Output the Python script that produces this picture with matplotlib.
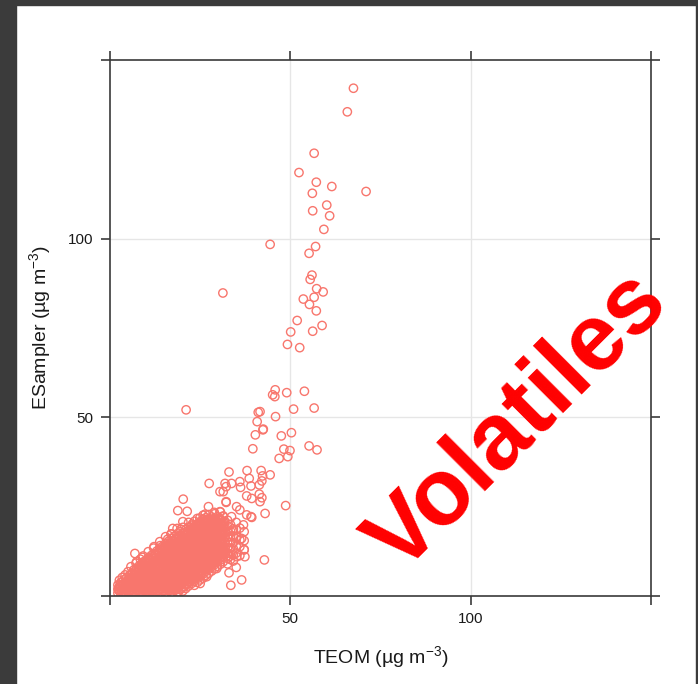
import numpy as np
import matplotlib
matplotlib.use("Agg")
import matplotlib.pyplot as plt
from matplotlib.patches import Rectangle

plt.rcParams['font.family'] = ['Liberation Sans', 'DejaVu Sans']
plt.rcParams['mathtext.fontset'] = 'custom'
plt.rcParams['mathtext.rm'] = 'Liberation Sans'
plt.rcParams['mathtext.it'] = 'Liberation Sans:italic'
plt.rcParams['mathtext.bf'] = 'Liberation Sans:bold'

# ---------- data (TEOM vs ESampler, ug/m3) ----------
# dense low-concentration cluster, one TEOM value per column
core_teom = [2.2, 3.0, 3.8, 4.6, 5.4, 6.2, 7.0, 7.8, 8.6, 9.4, 10.2, 11.0, 11.8,
             12.6, 13.4, 14.2, 15.0, 15.8, 16.6, 17.4, 18.2, 19.0, 19.8, 20.6,
             21.4, 22.2, 23.0, 23.8, 24.6, 25.4, 26.2, 27.0, 27.8, 28.6, 29.4,
             30.2, 31.0, 31.8]
core_esampler = [
    [0.8, 2.0, 3.1],
    [0.5, 1.6, 2.7, 3.8],
    [1.0, 2.2, 3.3, 4.5],
    [0.6, 1.7, 2.9, 4.0, 5.1],
    [1.2, 2.4, 3.5, 4.7, 5.8],
    [0.5, 1.8, 3.0, 4.1, 5.3, 6.4],
    [1.1, 2.3, 3.6, 4.8, 5.9, 7.1],
    [0.6, 1.8, 3.0, 4.2, 5.4, 6.6, 7.7],
    [1.2, 2.5, 3.7, 4.9, 6.1, 7.3, 8.4],
    [0.5, 1.8, 3.1, 4.3, 5.5, 6.8, 8.0, 9.1],
    [1.1, 2.4, 3.6, 4.9, 6.1, 7.4, 8.6, 9.7],
    [0.6, 1.9, 3.1, 4.4, 5.6, 6.9, 8.1, 9.3, 10.4],
    [1.3, 2.6, 3.8, 5.1, 6.3, 7.6, 8.8, 10.0, 11.0],
    [0.7, 2.0, 3.2, 4.5, 5.7, 7.0, 8.2, 9.5, 10.7, 11.6],
    [1.4, 2.7, 3.9, 5.2, 6.4, 7.7, 8.9, 10.2, 11.4, 12.3],
    [0.8, 2.1, 3.3, 4.6, 5.8, 7.1, 8.3, 9.6, 10.8, 12.0, 12.9],
    [1.5, 2.8, 4.0, 5.3, 6.5, 7.8, 9.0, 10.3, 11.5, 12.7, 13.6],
    [0.9, 2.2, 3.4, 4.7, 5.9, 7.2, 8.4, 9.7, 10.9, 12.2, 13.3, 14.2],
    [1.6, 2.9, 4.1, 5.4, 6.6, 7.9, 9.1, 10.4, 11.6, 12.9, 14.0, 14.8],
    [1.0, 2.3, 3.5, 4.8, 6.0, 7.3, 8.5, 9.8, 11.0, 12.3, 13.5, 14.6, 15.5],
    [1.7, 3.0, 4.2, 5.5, 6.7, 8.0, 9.2, 10.5, 11.7, 13.0, 14.2, 15.3, 16.1],
    [1.2, 2.4, 3.7, 4.9, 6.2, 7.4, 8.7, 9.9, 11.2, 12.4, 13.7, 14.9, 16.0, 16.7],
    [2.0, 3.2, 4.5, 5.7, 7.0, 8.2, 9.5, 10.7, 12.0, 13.2, 14.5, 15.7, 16.9],
    [2.6, 3.9, 5.1, 6.4, 7.6, 8.9, 10.1, 11.4, 12.6, 13.9, 15.1, 16.4, 17.5],
    [3.3, 4.5, 5.8, 7.0, 8.3, 9.5, 10.8, 12.0, 13.3, 14.5, 15.8, 17.0, 18.1],
    [3.9, 5.2, 6.4, 7.7, 8.9, 10.2, 11.4, 12.7, 13.9, 15.2, 16.4, 17.7, 18.6],
    [4.6, 5.8, 7.1, 8.3, 9.6, 10.8, 12.1, 13.3, 14.6, 15.8, 17.1, 18.3, 19.2],
    [5.2, 6.5, 7.7, 9.0, 10.2, 11.5, 12.7, 14.0, 15.2, 16.5, 17.7, 19.0, 19.8],
    [5.9, 7.1, 8.4, 9.6, 10.9, 12.1, 13.4, 14.6, 15.9, 17.1, 18.4, 19.6, 20.4],
    [6.5, 7.8, 9.0, 10.3, 11.5, 12.8, 14.0, 15.3, 16.5, 17.8, 19.0, 20.3],
    [7.2, 8.4, 9.7, 10.9, 12.2, 13.4, 14.7, 15.9, 17.2, 18.4, 19.7, 20.9],
    [7.8, 9.1, 10.3, 11.6, 12.8, 14.1, 15.3, 16.6, 17.8, 19.1, 20.3, 21.4],
    [8.5, 9.7, 11.0, 12.2, 13.5, 14.7, 16.0, 17.2, 18.5, 19.7, 21.0],
    [9.1, 10.4, 11.6, 12.9, 14.1, 15.4, 16.6, 17.9, 19.1, 20.4, 21.6],
    [9.8, 11.0, 12.3, 13.5, 14.8, 16.0, 17.3, 18.5, 19.8, 21.0],
    [10.4, 11.7, 12.9, 14.2, 15.4, 16.7, 17.9, 19.2, 20.4, 21.8],
    [11.1, 12.3, 13.6, 14.8, 16.1, 17.3, 18.6, 19.8, 21.1],
    [12.0, 13.5, 15.0, 16.5, 18.0, 19.5, 20.8],
]

# second, staggered set of columns inside the same cluster
core2_teom = [2.6, 3.4, 4.2, 5.0, 5.8, 6.6, 7.4, 8.2, 9.0, 9.8, 10.6, 11.4,
              12.2, 13.0, 13.8, 14.6, 15.4, 16.2, 17.0, 17.8, 18.6, 19.4,
              20.2, 21.0, 21.8, 22.6, 23.4, 24.2, 25.0, 25.8, 26.6, 27.4,
              28.2, 29.0, 29.8, 30.6, 31.4, 32.6, 33.4, 34.2, 35.0, 36.0, 37.2]
core2_esampler = [
    [1.4, 2.6, 4.4],
    [1.1, 2.2, 3.3, 5.2],
    [0.4, 1.6, 2.8, 3.9, 5.9],
    [1.1, 2.3, 3.4, 4.6, 6.8],
    [0.4, 1.7, 2.9, 4.0, 5.2, 6.1, 8.2],
    [1.2, 2.4, 3.6, 4.8, 5.9, 7.3],
    [0.5, 1.7, 2.9, 4.2, 5.4, 6.5, 7.8, 9.6],
    [1.2, 2.4, 3.6, 4.8, 6.0, 7.2, 8.6],
    [0.6, 1.9, 3.1, 4.3, 5.5, 6.7, 7.9, 9.4, 10.8],
    [1.2, 2.5, 3.7, 4.9, 6.2, 7.4, 8.6, 9.9],
    [0.4, 1.8, 3.0, 4.3, 5.5, 6.8, 8.0, 9.2, 10.7, 12.4],
    [1.3, 2.5, 3.8, 5.0, 6.3, 7.5, 8.7, 9.9, 11.3],
    [0.5, 2.0, 3.2, 4.5, 5.7, 6.9, 8.2, 9.4, 10.6, 11.9, 13.8],
    [1.4, 2.6, 3.9, 5.1, 6.4, 7.6, 8.9, 10.1, 11.3, 12.6],
    [0.6, 2.0, 3.3, 4.5, 5.8, 7.0, 8.3, 9.5, 10.8, 12.0, 13.4, 15.2],
    [1.4, 2.7, 3.9, 5.2, 6.4, 7.7, 8.9, 10.2, 11.4, 12.7, 13.9],
    [0.7, 2.1, 3.3, 4.6, 5.8, 7.1, 8.3, 9.6, 10.8, 12.1, 13.3, 14.7, 16.6],
    [1.5, 2.8, 4.0, 5.3, 6.5, 7.8, 9.0, 10.3, 11.5, 12.8, 14.0, 15.3],
    [0.8, 2.2, 3.4, 4.7, 5.9, 7.2, 8.4, 9.7, 10.9, 12.2, 13.4, 14.7, 16.1, 17.4],
    [1.6, 2.9, 4.1, 5.4, 6.6, 7.9, 9.1, 10.4, 11.6, 12.9, 14.1, 15.4, 16.6],
    [0.9, 2.3, 3.5, 4.8, 6.0, 7.3, 8.5, 9.8, 11.0, 12.3, 13.5, 14.8, 16.0, 17.4, 18.9],
    [1.8, 3.0, 4.3, 5.5, 6.8, 8.0, 9.3, 10.5, 11.8, 13.0, 14.3, 15.5, 16.8, 18.0],
    [1.4, 2.6, 3.8, 5.1, 6.3, 7.6, 8.8, 10.1, 11.3, 12.6, 13.8, 15.1, 16.3, 17.6, 19.2, 20.8],
    [2.1, 3.4, 4.6, 5.9, 7.1, 8.4, 9.6, 10.9, 12.1, 13.4, 14.6, 15.9, 17.1, 18.5],
    [2.8, 4.0, 5.3, 6.5, 7.8, 9.0, 10.3, 11.5, 12.8, 14.0, 15.3, 16.5, 17.8, 19.2, 20.6],
    [3.5, 4.7, 6.0, 7.2, 8.5, 9.7, 11.0, 12.2, 13.5, 14.7, 16.0, 17.2, 18.5, 19.6],
    [3.0, 4.2, 5.4, 6.7, 7.9, 9.2, 10.4, 11.7, 12.9, 14.2, 15.4, 16.7, 17.9, 19.3, 20.9],
    [3.8, 4.9, 6.1, 7.4, 8.6, 9.9, 11.1, 12.4, 13.6, 14.9, 16.1, 17.4, 18.6, 20.0, 21.7],
    [4.5, 5.6, 6.8, 8.1, 9.3, 10.6, 11.8, 13.1, 14.3, 15.6, 16.8, 18.1, 19.4, 20.8],
    [5.0, 6.2, 7.5, 8.7, 10.0, 11.2, 12.5, 13.7, 15.0, 16.2, 17.5, 18.7, 20.0, 21.4, 22.6],
    [5.8, 6.9, 8.1, 9.4, 10.6, 11.9, 13.1, 14.4, 15.6, 16.9, 18.1, 19.4, 20.6, 21.9],
    [6.4, 7.5, 8.8, 10.0, 11.3, 12.5, 13.8, 15.0, 16.3, 17.5, 18.8, 20.0, 21.3, 22.8],
    [7.0, 8.2, 9.4, 10.7, 11.9, 13.2, 14.4, 15.7, 16.9, 18.2, 19.4, 20.7, 22.1],
    [7.6, 8.8, 10.1, 11.3, 12.6, 13.8, 15.1, 16.3, 17.6, 18.8, 20.1, 21.4, 23.0],
    [8.3, 9.5, 10.7, 12.0, 13.2, 14.5, 15.7, 17.0, 18.2, 19.5, 20.7, 22.2],
    [8.9, 10.1, 11.4, 12.6, 13.9, 15.1, 16.4, 17.6, 18.9, 20.1, 21.4, 23.5],
    [9.6, 10.8, 12.0, 13.3, 14.5, 15.8, 17.0, 18.3, 19.5, 20.8, 22.4],
    [9.0, 10.5, 12.0, 13.5, 15.0, 16.5, 18.0, 19.6, 21.2],
    [10.2, 11.8, 13.4, 15.0, 16.6, 18.2, 20.0],
    [9.8, 11.5, 13.2, 14.9, 16.8, 18.8],
    [12.0, 14.0, 16.0, 18.5, 20.6],
    [11.3, 13.8, 15.7, 19.0],
    [13.0, 15.5, 18.0],
]

# scattered points around the edge of the cluster
edge_teom = [6.9, 9.2, 7.2, 10.6, 2.8, 2.3, 16.0, 17.4, 18.8, 21.4, 20.3,
             15.7, 14.3, 17.6, 18.5, 21.3, 24.0, 25.0, 26.8, 29.6, 27.7,
             30.5, 33.3, 37.2, 33.1, 35.1, 37.4, 36.5, 35.1, 37.0, 33.7,
             35.1, 36.0, 37.9, 39.3, 32.2, 30.5, 31.9, 27.3, 30.5, 31.4,
             33.5, 35.0, 36.5, 33.0, 42.8, 39.1, 43.0, 48.7, 32.2, 37.9,
             39.3, 41.4, 42.1, 41.6, 36.2, 31.4, 32.2, 33.7, 36.0, 38.6,
             42.3, 42.1, 39.1, 41.4, 27.5, 33.0, 38.0, 41.9, 44.4,
             8.4, 12.1, 13.9, 16.9, 19.6, 22.8, 24.9, 26.4, 28.9, 34.2]
edge_esampler = [11.9, 11.2, 9.2, 9.6, 3.1, 1.7, 15.9, 18.9, 23.9, 23.7, 27.1,
                 2.6, 4.0, 5.9, 4.0, 4.5, 7.3, 3.5, 5.4, 7.7, 10.1,
                 11.9, 13.3, 12.9, 11.0, 11.0, 11.0, 16.1, 16.6, 19.9, 22.2,
                 25.0, 24.1, 22.7, 22.0, 26.2, 29.2, 31.5, 25.0, 23.6, 22.2,
                 3.0, 8.0, 4.5, 6.5, 10.1, 22.2, 23.1, 25.3, 26.4, 28.0,
                 27.3, 28.5, 27.5, 26.4, 30.4, 29.2, 30.6, 31.5, 32.0, 32.9,
                 33.6, 32.2, 30.8, 31.1, 31.5, 34.7, 35.1, 35.1, 33.9,
                 10.3, 13.4, 14.1, 17.3, 18.7, 20.1, 21.8, 22.9, 23.4, 18.2]

# high-concentration tail
tail_teom = [67.5, 65.8, 56.6, 52.4, 57.2, 61.5, 71.0, 56.1, 60.1, 56.2, 60.9,
             59.3, 44.4, 57.0, 55.2, 56.0, 55.5, 57.3, 59.1, 56.6, 53.6,
             55.3, 57.2, 51.9, 58.8, 50.1, 56.2, 49.2, 52.6, 45.8, 45.1,
             45.7, 49.0, 53.9, 50.9, 56.6, 45.9, 42.5, 47.5, 50.3, 41.6,
             21.1, 31.3, 41.1, 40.8, 42.4, 40.3, 39.6, 48.2, 49.9, 46.9,
             49.3, 55.2, 57.4]
tail_esampler = [142.1, 135.5, 123.9, 118.5, 115.8, 114.6, 113.2, 112.7, 109.4,
                 107.8, 106.4, 102.6, 98.4, 97.8, 95.9, 89.8, 88.6, 86.0, 85.1,
                 83.6, 83.1, 81.6, 79.8, 77.1, 75.7, 73.9, 74.1, 70.4, 69.5,
                 57.7, 56.3, 55.8, 56.9, 57.3, 52.3, 52.6, 50.2, 46.7, 44.8,
                 45.7, 51.6, 52.1, 84.8, 51.4, 48.8, 46.5, 45.1, 41.2, 41.1,
                 40.7, 38.5, 39.0, 42.0, 40.9]

ticks = [0, 50, 100, 150]
tick_labels = ["", "50", "100", ""]

# ---------- assemble ----------
teom = []
esampler = []
for cols, vals in [(core_teom, core_esampler), (core2_teom, core2_esampler)]:
    for x, ys in zip(cols, vals):
        teom += [x] * len(ys)
        esampler += ys
teom += edge_teom + tail_teom
esampler += edge_esampler + tail_esampler

W, H = 698, 684
fig = plt.figure(figsize=(W / 100, H / 100), dpi=100)
fig.patch.set_facecolor("white")

# dark slide border around the screenshot
dark = "#3b3b3b"
fig.patches.append(Rectangle((0, 1 - 5 / H), 1, 5 / H, transform=fig.transFigure,
                             color=dark, zorder=0))
fig.patches.append(Rectangle((0, 0), 16 / W, 1, transform=fig.transFigure,
                             color=dark, zorder=0))
fig.patches.append(Rectangle((1 - 2 / W, 0), 2 / W, 1, transform=fig.transFigure,
                             color=dark, zorder=0))

ax = fig.add_axes([110 / W, 1 - 596 / H, 541 / W, 536 / H])
ax.set_xlim(0, 150)
ax.set_ylim(0, 150)

for v in [50, 100]:
    ax.axvline(v, color="#e6e6e6", lw=1, zorder=0)
    ax.axhline(v, color="#e6e6e6", lw=1, zorder=0)

ax.scatter(teom, esampler, s=36, facecolors="none", edgecolors="#F8766D",
           linewidths=1.0, zorder=2)

for sp in ax.spines.values():
    sp.set_color("#3a3a3a")
    sp.set_linewidth(1.2)

ax.set_xticks(ticks)
ax.set_xticklabels(tick_labels)
ax.set_yticks(ticks)
ax.set_yticklabels(tick_labels)
ax.tick_params(direction="out", length=6.8, width=1.1, color="#2a2a2a",
               top=True, right=True, labelsize=11, labelcolor="#1a1a1a", pad=5)

fig.text(380.5 / W, 1 - 657 / H, r"TEOM (µg m$^{-3}$)", ha="center", va="center",
         fontsize=14, color="#1a1a1a")
fig.text(40 / W, 1 - 328 / H, r"ESampler (µg m$^{-3}$)", ha="center", va="center",
         rotation=90, fontsize=14, color="#1a1a1a")

fig.text(536 / W, 1 - 440 / H, "Volatiles", rotation=45, rotation_mode="anchor",
         ha="center", va="baseline", fontsize=68, fontweight="bold", color="red",
         zorder=5)

fig.savefig("out.png", dpi=100)
